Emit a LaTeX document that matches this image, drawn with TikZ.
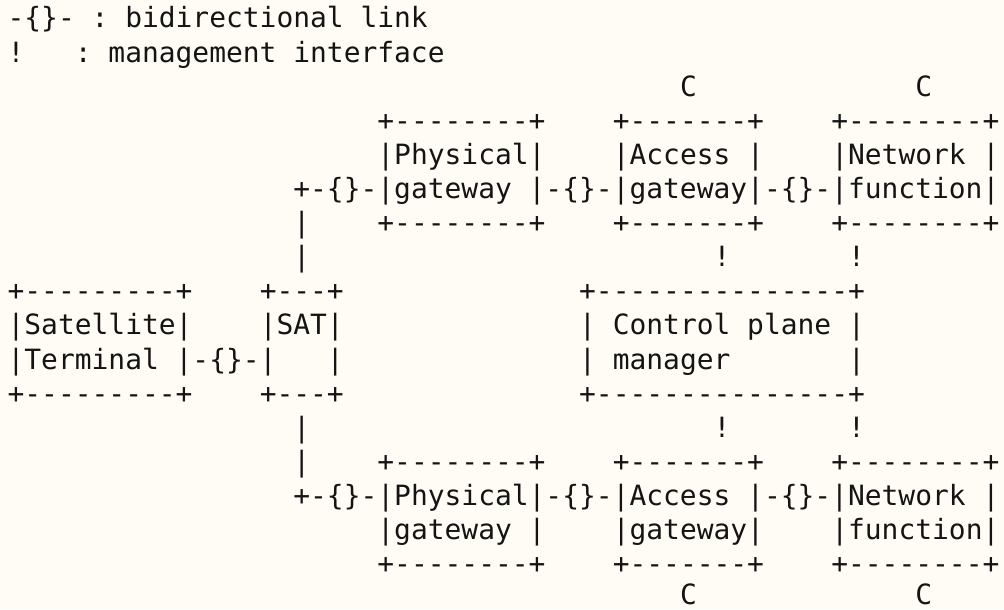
\documentclass[tikz,border=0pt]{standalone}
\usepackage{fontspec}
\setmonofont{DejaVu Sans Mono}
\definecolor{paper}{RGB}{255,252,245}
\definecolor{ink}{RGB}{20,20,20}

\begin{document}
\begin{tikzpicture}[x=0.5pt,y=0.5pt,yscale=-1,
  ascii/.style={anchor=base west,inner sep=0pt,outer sep=0pt,text=ink,
    font=\ttfamily\fontsize{13.96}{17.05}\selectfont}]
%set diagram frame: 1004 x 609
\fill[paper] (0,0) rectangle (1004,609);
\useasboundingbox (0,0) rectangle (1004,609);

% Legend
\node[ascii] (legLink) at (7.6,28) {-\{\}- : bidirectional link};
\node[ascii] (legMgmt) at (7.6,62.1) {!~~~: management interface};

% Text Node
\node[ascii] (cAgTop) at (680.0,96.2) {C};
\node[ascii] (cNfTop) at (915.34,96.2) {C};

%Upper row of boxes
\node[ascii] (pgTopN) at (377.42,130.3) {+--------+};
\node[ascii] (agTopN) at (612.76,130.3) {+-------+};
\node[ascii] (nfTopN) at (831.29,130.3) {+--------+};
\node[ascii] (pgTopA) at (377.42,164.4) {|Physical|};
\node[ascii] (agTopA) at (612.76,164.4) {|Access |};
\node[ascii] (nfTopA) at (831.29,164.4) {|Network |};
\node[ascii] (linkTop) at (293.37,198.5) {+-\{\}-|gateway |-\{\}-|gateway|-\{\}-|function|};
\node[ascii] (vTopA) at (293.37,232.6) {|};
\node[ascii] (pgTopS) at (377.42,232.6) {+--------+};
\node[ascii] (agTopS) at (612.76,232.6) {+-------+};
\node[ascii] (nfTopS) at (831.29,232.6) {+--------+};
\node[ascii] (vTopB) at (293.37,266.7) {|};
\node[ascii] (mgAgTop) at (713.62,266.7) {!};
\node[ascii] (mgNfTop) at (848.1,266.7) {!};

%Middle row: terminal, SAT, control plane manager
\node[ascii] (stN) at (7.6,300.8) {+---------+};
\node[ascii] (satN) at (259.75,300.8) {+---+};
\node[ascii] (cpN) at (579.14,300.8) {+---------------+};
\node[ascii] (stA) at (7.6,334.9) {|Satellite|};
\node[ascii] (satA) at (259.75,334.9) {|SAT|};
\node[ascii] (cpA) at (579.14,334.9) {| Control plane |};
\node[ascii] (stB) at (7.6,369) {|Terminal |-\{\}-|~~~|};
\node[ascii] (cpB) at (579.14,369) {| manager~~~~~~~|};
\node[ascii] (stS) at (7.6,403.1) {+---------+};
\node[ascii] (satS) at (259.75,403.1) {+---+};
\node[ascii] (cpS) at (579.14,403.1) {+---------------+};

%Lower row of boxes
\node[ascii] (vBotA) at (293.37,437.2) {|};
\node[ascii] (mgAgBot) at (713.62,437.2) {!};
\node[ascii] (mgNfBot) at (848.1,437.2) {!};
\node[ascii] (vBotB) at (293.37,471.3) {|};
\node[ascii] (pgBotN) at (377.42,471.3) {+--------+};
\node[ascii] (agBotN) at (612.76,471.3) {+-------+};
\node[ascii] (nfBotN) at (831.29,471.3) {+--------+};
\node[ascii] (linkBot) at (293.37,505.4) {+-\{\}-|Physical|-\{\}-|Access |-\{\}-|Network |};
\node[ascii] (pgBotB) at (377.42,539.5) {|gateway |};
\node[ascii] (agBotB) at (612.76,539.5) {|gateway|};
\node[ascii] (nfBotB) at (831.29,539.5) {|function|};
\node[ascii] (pgBotS) at (377.42,573.6) {+--------+};
\node[ascii] (agBotS) at (612.76,573.6) {+-------+};
\node[ascii] (nfBotS) at (831.29,573.6) {+--------+};

% Text Node
\node[ascii] (cAgBot) at (680.0,604.5) {C};
\node[ascii] (cNfBot) at (915.34,604.5) {C};

\end{tikzpicture}
\end{document}
